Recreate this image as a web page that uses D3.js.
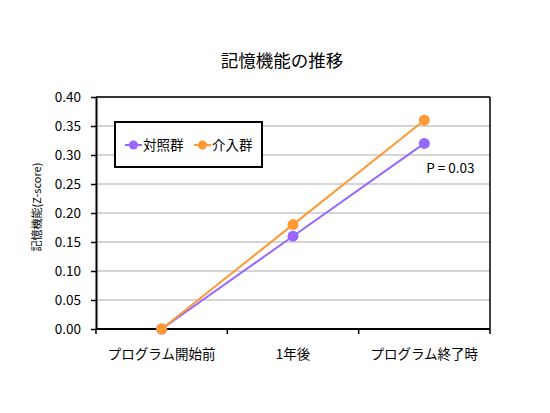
<!DOCTYPE html>
<html>
<head>
<meta charset="utf-8">
<script src="https://cdn.jsdelivr.net/npm/d3@7/dist/d3.min.js"></script>
<style>
  body { margin: 0; background: #fff; }
  svg text { font-family: "Noto Sans CJK JP", "Noto Sans", sans-serif; fill: #000; }
</style>
</head>
<body>
<div id="chart"></div>
<script>
// data
const categories = ['プログラム開始前', '1年後', 'プログラム終了時'];
const controlValues = [0.00, 0.16, 0.32];
const interventionValues = [0.00, 0.18, 0.36];
const yTicks = [0, 0.05, 0.10, 0.15, 0.20, 0.25, 0.30, 0.35, 0.40];

const series = [
  { name: '対照群', values: controlValues, color: '#9966ff' },
  { name: '介入群', values: interventionValues, color: '#ff9933' }
];

const width = 550, height = 413;
const margin = { top: 97, right: 60, bottom: 84, left: 96 };
const innerW = width - margin.left - margin.right;
const innerH = height - margin.top - margin.bottom;

const svg = d3.select('#chart').append('svg')
  .attr('width', width)
  .attr('height', height);

// title
svg.append('text')
  .attr('x', 282)
  .attr('y', 67)
  .attr('text-anchor', 'middle')
  .style('font-size', '17.5px')
  .text('記憶機能の推移');

const g = svg.append('g').attr('transform', `translate(${margin.left},${margin.top})`);

const x = d3.scaleBand().domain(categories).range([0, innerW]);
const y = d3.scaleLinear().domain([0, 0.4]).range([innerH, 0]);

// grid
g.append('g')
  .selectAll('line')
  .data(yTicks.slice(1))
  .join('line')
  .attr('x1', 0).attr('x2', innerW)
  .attr('y1', d => y(d)).attr('y2', d => y(d))
  .attr('stroke', '#aaa')
  .attr('stroke-width', 1);

// frame top / right
g.append('line').attr('x1', 0).attr('x2', innerW).attr('y1', 0).attr('y2', 0)
  .attr('stroke', '#000').attr('stroke-width', 1.5);
g.append('line').attr('x1', innerW).attr('x2', innerW).attr('y1', 0).attr('y2', innerH)
  .attr('stroke', '#000').attr('stroke-width', 1.5);

// y axis
const yAxis = g.append('g')
  .call(d3.axisLeft(y).tickValues(yTicks).tickFormat(d3.format('.2f')).tickSize(5).tickSizeOuter(0));
yAxis.select('.domain').attr('stroke', '#000').attr('stroke-width', 2);
yAxis.selectAll('.tick line').attr('stroke', '#000').attr('stroke-width', 1.5);
yAxis.selectAll('text').style('font-size', '13.5px').attr('x', -15);

// x axis: ticks at band edges
const xAxis = g.append('g').attr('transform', `translate(0,${innerH})`);
xAxis.append('line').attr('x1', 0).attr('x2', innerW).attr('y1', 0).attr('y2', 0)
  .attr('stroke', '#000').attr('stroke-width', 2);
const edges = categories.map(c => x(c)).concat([innerW]);
xAxis.selectAll('.xtick')
  .data(edges)
  .join('line')
  .attr('class', 'xtick')
  .attr('x1', d => d).attr('x2', d => d)
  .attr('y1', 0).attr('y2', 5)
  .attr('stroke', '#000').attr('stroke-width', 1.5);
xAxis.selectAll('.xlabel')
  .data(categories)
  .join('text')
  .attr('class', 'xlabel')
  .attr('x', d => x(d) + x.bandwidth() / 2)
  .attr('y', 30)
  .attr('text-anchor', 'middle')
  .style('font-size', '13.5px')
  .text(d => d);

// y label
svg.append('text')
  .attr('transform', `translate(41,${margin.top + innerH / 2 - 6}) rotate(-90)`)
  .attr('text-anchor', 'middle')
  .style('font-size', '11px')
  .text('記憶機能(Z-score)');

// lines + points
const line = d3.line()
  .x((d, i) => x(categories[i]) + x.bandwidth() / 2)
  .y(d => y(d));

series.forEach(s => {
  g.append('path')
    .datum(s.values)
    .attr('fill', 'none')
    .attr('stroke', s.color)
    .attr('stroke-width', 2)
    .attr('d', line);
  g.selectAll(null)
    .data(s.values)
    .join('circle')
    .attr('cx', (d, i) => x(categories[i]) + x.bandwidth() / 2)
    .attr('cy', d => y(d))
    .attr('r', 5.5)
    .attr('fill', s.color);
});

// p value
g.append('text')
  .attr('x', x(categories[2]) + x.bandwidth() / 2 + 26)
  .attr('y', y(controlValues[2]) + 30)
  .attr('text-anchor', 'middle')
  .style('font-size', '13.5px')
  .text('P = 0.03');

// legend
const legend = svg.append('g').attr('transform', 'translate(115,122)');
legend.append('rect')
  .attr('width', 147).attr('height', 45)
  .attr('fill', '#fff')
  .attr('stroke', '#000')
  .attr('stroke-width', 2);
const itemX = [10, 79];
series.forEach((s, i) => {
  const it = legend.append('g').attr('transform', `translate(${itemX[i]},23)`);
  it.append('line').attr('x1', 0).attr('x2', 17).attr('y1', 0).attr('y2', 0)
    .attr('stroke', s.color).attr('stroke-width', 2);
  it.append('circle').attr('cx', 8.5).attr('cy', 0).attr('r', 4.5).attr('fill', s.color);
  it.append('text').attr('x', 18).attr('y', 5).style('font-size', '13.5px').text(s.name);
});
</script>
</body>
</html>
